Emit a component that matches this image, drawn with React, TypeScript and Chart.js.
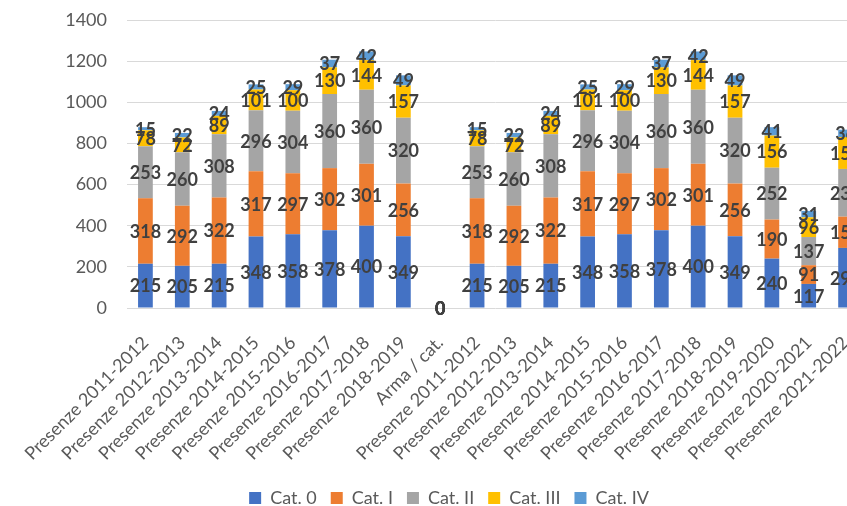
import { useEffect, useRef } from "react";
import { Chart, registerables } from "chart.js";

Chart.register(...registerables);

const categories = [
  "Presenze 2011-2012",
  "Presenze 2012-2013",
  "Presenze 2013-2014",
  "Presenze 2014-2015",
  "Presenze 2015-2016",
  "Presenze 2016-2017",
  "Presenze 2017-2018",
  "Presenze 2018-2019",
  "Arma / cat.",
  "Presenze 2011-2012",
  "Presenze 2012-2013",
  "Presenze 2013-2014",
  "Presenze 2014-2015",
  "Presenze 2015-2016",
  "Presenze 2016-2017",
  "Presenze 2017-2018",
  "Presenze 2018-2019",
  "Presenze 2019-2020",
  "Presenze 2020-2021",
  "Presenze 2021-2022",
];

const cat0 = [215, 205, 215, 348, 358, 378, 400, 349, 0, 215, 205, 215, 348, 358, 378, 400, 349, 240, 117, 292];
const catI = [318, 292, 322, 317, 297, 302, 301, 256, 0, 318, 292, 322, 317, 297, 302, 301, 256, 190, 91, 152];
const catII = [253, 260, 308, 296, 304, 360, 360, 320, 0, 253, 260, 308, 296, 304, 360, 360, 320, 252, 137, 232];
const catIII = [78, 72, 89, 101, 100, 130, 144, 157, 0, 78, 72, 89, 101, 100, 130, 144, 157, 156, 96, 155];
const catIV = [15, 22, 24, 25, 29, 37, 42, 49, 0, 15, 22, 24, 25, 29, 37, 42, 49, 41, 31, 36];

const seriesNames = ["Cat. 0", "Cat. I", "Cat. II", "Cat. III", "Cat. IV"];
const seriesColors = ["#4472C4", "#ED7D31", "#A5A5A5", "#FFC000", "#5B9BD5"];

const yMin = 0;
const yMax = 1400;
const yStep = 200;

const CANVAS_W = 898;
const CANVAS_H = 517;

const FONT = "Lato";

const barLabelPlugin = {
  id: "barLabels",
  afterDatasetsDraw(chart: any) {
    const ctx = chart.ctx;
    ctx.save();
    ctx.font = `bold 18px ${FONT}`;
    ctx.fillStyle = "#404040";
    ctx.textAlign = "center";
    ctx.textBaseline = "middle";
    chart.data.datasets.forEach((ds: any, i: number) => {
      const meta = chart.getDatasetMeta(i);
      if (meta.hidden) return;
      meta.data.forEach((el: any, j: number) => {
        const { x, y, base } = el.getProps(["x", "y", "base"], true);
        ctx.fillText(String(ds.data[j]), x, (y + base) / 2 + 1);
      });
    });
    ctx.restore();
  },
};

export default function App() {
  const canvasRef = useRef<HTMLCanvasElement | null>(null);

  useEffect(() => {
    if (!canvasRef.current) return;
    Chart.defaults.font.family = FONT;
    const seriesData = [cat0, catI, catII, catIII, catIV];
    const chart = new Chart(canvasRef.current, {
      type: "bar",
      data: {
        labels: categories,
        datasets: seriesNames.map((name, i) => ({
          label: name,
          data: seriesData[i],
          backgroundColor: seriesColors[i],
          borderWidth: 0,
          categoryPercentage: 1,
          barPercentage: 0.4,
        })),
      },
      options: {
        responsive: false,
        animation: false,
        layout: { padding: { top: 20, left: 0, right: 0, bottom: 0 } },
        plugins: {
          tooltip: { enabled: false },
          legend: {
            position: "bottom",
            labels: {
              boxWidth: 12,
              boxHeight: 12,
              padding: 14,
              color: "#595959",
              font: { size: 18, family: FONT },
            },
          },
        },
        scales: {
          x: {
            stacked: true,
            grid: { display: false },
            border: { display: false },
            ticks: {
              autoSkip: false,
              maxRotation: 45,
              minRotation: 45,
              padding: 16,
              color: "#595959",
              font: { size: 18, family: FONT },
            },
            afterFit: (scale: any) => {
              scale.height = 167;
              scale.paddingLeft = 0;
              scale.paddingRight = 34;
            },
          },
          y: {
            stacked: true,
            min: yMin,
            max: yMax,
            grid: { color: "#D9D9D9", drawTicks: false },
            border: { display: false },
            ticks: {
              stepSize: yStep,
              padding: 20,
              color: "#595959",
              font: { size: 18, family: FONT },
              callback: (value: any) => String(value),
            },
            afterFit: (scale: any) => {
              scale.width = 127;
              scale.paddingTop = 0;
              scale.paddingBottom = 0;
            },
          },
        },
      },
      plugins: [barLabelPlugin],
    });
    return () => chart.destroy();
  }, []);

  return (
    <div
      style={{
        position: "fixed",
        left: 0,
        top: 0,
        width: 847,
        height: 506,
        overflow: "hidden",
        background: "#ffffff",
      }}
    >
      <canvas
        ref={canvasRef}
        width={CANVAS_W}
        height={CANVAS_H}
        style={{ display: "block", width: CANVAS_W, height: CANVAS_H }}
      />
    </div>
  );
}
